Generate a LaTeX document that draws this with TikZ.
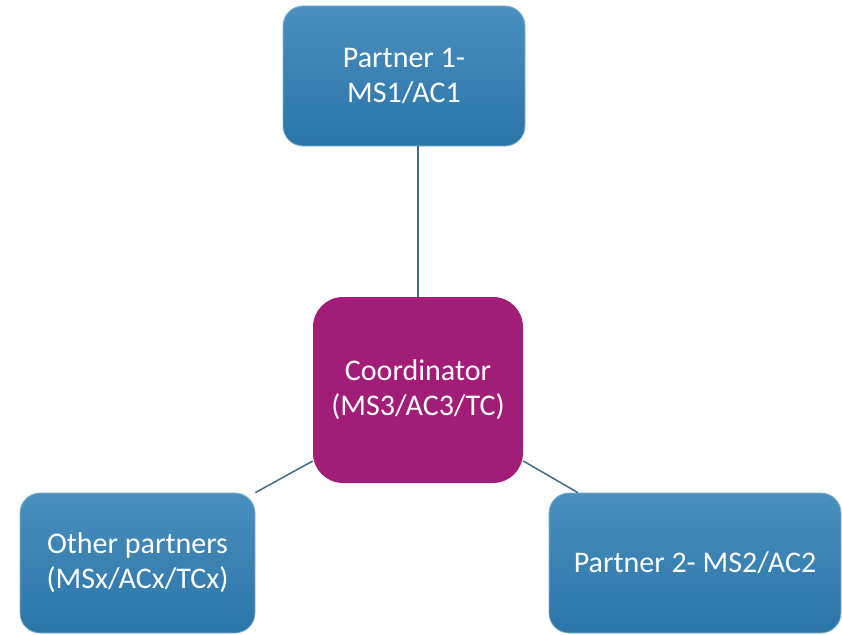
\documentclass[tikz,border=0pt]{standalone}
\usepackage{fontspec}
\setmainfont{Carlito}
\usepackage{tikz}
\definecolor{boxtop}{HTML}{4A8FBD}
\definecolor{boxbot}{HTML}{2A75A8}
\definecolor{coordcol}{HTML}{A21D78}
\definecolor{linkcol}{HTML}{3C6E8C}

\begin{document}
\begin{tikzpicture}[x=1pt,y=-1pt,
    partner/.style={rounded corners=20pt, top color=boxtop, bottom color=boxbot,
        draw=boxtop!70!white, line width=0.8pt, text=white, align=center,
        font=\fontsize{30}{35}\selectfont, inner sep=0pt},
    coord/.style={rounded corners=30pt, fill=coordcol, text=white, align=center,
        font=\fontsize{30}{35}\selectfont, inner sep=0pt,
        minimum width=210pt, minimum height=186pt},
    link/.style={draw=linkcol, line width=1.5pt}]
    \useasboundingbox (0,0) rectangle (842,634);
    \node[partner, minimum width=242pt, minimum height=140pt] (top) at (404,76) {Partner 1-\\MS1/AC1};
    \node[coord] (ctr) at (418,390) {Coordinator\\(MS3/AC3/TC)};
    \node[partner, minimum width=235pt, minimum height=140pt] (left) at (137.5,563) {Other partners\\(MSx/ACx/TCx)};
    \node[partner, minimum width=292pt, minimum height=140pt] (right) at (695,563) {Partner 2- MS2/AC2};
    \draw[link] (ctr.north) -- (ctr.north |- top.south);
    \draw[link] (ctr.214) -- (left.north east);
    \draw[link] (ctr.-34) -- (right.149.3);
\end{tikzpicture}
\end{document}
